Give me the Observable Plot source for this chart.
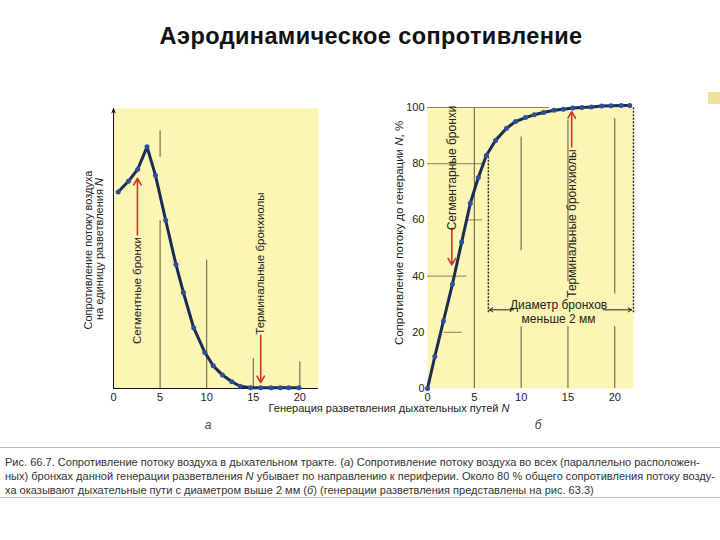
<!DOCTYPE html>
<html>
<head>
<meta charset="utf-8">
<script src="https://cdn.jsdelivr.net/npm/d3@7"></script>
<script src="https://cdn.jsdelivr.net/npm/@observablehq/plot@0.6"></script>
<style>
  html, body { margin: 0; padding: 0; background: #fff; }
  #page { position: relative; width: 720px; height: 540px; overflow: hidden; font-family: Arial, "Liberation Sans", sans-serif; color: #222; }
  .abs { position: absolute; white-space: nowrap; }
  .rot { transform: translate(-50%, -50%) rotate(-90deg); }
  .ctr { transform: translate(-50%, -50%); }
  .cap { position: absolute; left: 5px; white-space: nowrap; font-size: 10.5px; color: #333; transform-origin: 0 50%; line-height: 14px; }
  .plotbox { position: absolute; }
</style>
</head>
<body>
<div id="page"></div>
<script>
// ---------- data ----------
const xTicks = [0, 5, 10, 15, 20];
const xDomain = [0, 22];

// panel (a): resistance per generation (arbitrary units)
const leftGen = [0.5, 1.6, 2.6, 3.6, 4.5, 5.6, 6.7, 7.5, 8.6, 9.8, 10.7, 11.7, 12.7, 13.6, 14.7, 15.8, 16.9, 17.9, 18.8, 19.9];
const leftRes = [70.2, 74, 78.3, 86.3, 76.2, 60.1, 44.3, 34.3, 21.7, 12.9, 8.1, 4.8, 2.4, 0.8, 0.3, 0.3, 0.3, 0.3, 0.3, 0.3];

// panel (б): cumulative resistance, %
const rightGen = [0, 0.78, 1.7, 2.66, 3.65, 4.57, 5.43, 6.28, 7.27, 8.44, 9.4, 10.46, 11.4, 12.4, 13.5, 14.5, 15.5, 16.5, 17.5, 18.6, 19.6, 20.7, 21.6];
const rightRes = [0, 11.4, 24, 37.1, 52.1, 65.9, 75.1, 82.9, 88.3, 92.6, 95, 96.4, 97.4, 98.2, 99, 99.4, 99.8, 100, 100.2, 100.5, 100.6, 100.7, 100.7];
const rightYTicks = [0, 20, 40, 60, 80, 100];

// partial grid segments
const leftGridX = [5, 5, 10, 15, 20];
const leftGridLo = [0, 82.6, 0, 0, 0];
const leftGridHi = [60, 92, 45.8, 10.7, 9.5];

const rightGridX = [5, 10, 10, 15, 15, 20, 20];
const rightGridLo = [0, 0, 49, 0, 38, 0, 33.6];
const rightGridHi = [100, 22, 89.5, 22, 95.5, 22, 96];

const rightGridY = [100, 80, 60, 40, 20];
const rightGridFrom = [0, 0, 4.3, 0, 1.8];
const rightGridTo = [13, 6, 5.9, 4.2, 3.7];

// annotations
const leftLabels = ["Сегментные бронхи", "Терминальные бронхиолы"];
const leftLabelX = [2.57, 15.8];
const leftLabelY = [35, 44.6];
const leftArrowFrom = [54.8, 19];
const leftArrowTo = [75, 2.1];

const rightLabels = ["Сегментарные бронхи", "Терминальные бронхиолы"];
const rightLabelX = [2.6, 15.4];
const rightLabelY = [78.5, 58.7];
const rightArrowFrom = [57, 86];
const rightArrowTo = [44, 98.5];

const dashedX = [6.5, 22];
const dashedLo = [27, 27];
const dashedHi = [82.5, 100];

const diamArrowFrom = [9.2, 18.8];
const diamArrowTo = [6.6, 21.8];
const diamY = 28;
const diamText = ["Диаметр бронхов", "меньше 2 мм"];
const diamTextY = [29.6, 24.8];
const diamTextX = 14;

// ---------- build tables ----------
const zip = (keys, ...cols) => cols[0].map((_, i) => Object.fromEntries(keys.map((k, j) => [k, cols[j][i]])));
const leftData = zip(["x", "y"], leftGen, leftRes);
const rightData = zip(["x", "y"], rightGen, rightRes);
const lGrid = zip(["x", "y1", "y2"], leftGridX, leftGridLo, leftGridHi);
const rGridV = zip(["x", "y1", "y2"], rightGridX, rightGridLo, rightGridHi);
const rGridH = zip(["y", "x1", "x2"], rightGridY, rightGridFrom, rightGridTo);
const lLab = zip(["text", "x", "y"], leftLabels, leftLabelX, leftLabelY);
const lArr = zip(["x", "y1", "y2"], leftLabelX, leftArrowFrom, leftArrowTo);
const rLab = zip(["text", "x", "y"], rightLabels, rightLabelX, rightLabelY);
const rArr = zip(["x", "y1", "y2"], rightLabelX, rightArrowFrom, rightArrowTo);
const dashed = zip(["x", "y1", "y2"], dashedX, dashedLo, dashedHi);
const diamArr = zip(["x1", "x2"], diamArrowFrom, diamArrowTo).map(d => ({...d, y: diamY}));
const diamLab = zip(["text", "y"], diamText, diamTextY).map(d => ({...d, x: diamTextX}));

const YELLOW = "#fcf5b3";
const LINE = "#1b2c52";
const DOT = "#2b4f9e";
const RED = "#c8372b";
const style = { background: "transparent", fontFamily: "Arial, 'Liberation Sans', sans-serif", fontSize: "11px", color: "#222", overflow: "visible" };

const left = Plot.plot({
  width: 230, height: 320,
  marginLeft: 13, marginRight: 12, marginTop: 13, marginBottom: 27,
  style,
  x: { domain: xDomain, ticks: xTicks, tickSize: 0, tickPadding: 5, label: null },
  y: { domain: [0, 100], axis: null },
  marks: [
    Plot.frame({ fill: YELLOW, stroke: "none" }),
    Plot.ruleX(lGrid, { x: "x", y1: "y1", y2: "y2", stroke: "#3a3020", strokeWidth: 0.8 }),
    Plot.ruleY([0], { stroke: "#111", strokeWidth: 1.2 }),
    Plot.arrow([{ x: 0, y1: 0, y2: 100 }], { x1: "x", x2: "x", y1: "y1", y2: "y2", stroke: "#111", strokeWidth: 1, headLength: 7, headAngle: 40 }),
    Plot.line(leftData, { x: "x", y: "y", stroke: LINE, strokeWidth: 3, curve: "linear" }),
    Plot.dot(leftData, { x: "x", y: "y", r: 2.5, fill: DOT }),
    Plot.arrow(lArr, { x1: "x", x2: "x", y1: "y1", y2: "y2", stroke: RED, strokeWidth: 1.6, headLength: 7 }),
    Plot.text(lLab, { x: "x", y: "y", text: "text", rotate: -90, fontSize: 11.5, fill: "#222" })
  ]
});

const right = Plot.plot({
  width: 250, height: 320,
  marginLeft: 37, marginRight: 7, marginTop: 12, marginBottom: 27,
  style,
  x: { domain: xDomain, ticks: xTicks, tickSize: 0, tickPadding: 5, label: null },
  y: { domain: [0, 100], ticks: rightYTicks, tickSize: 0, tickPadding: 3, label: null },
  marks: [
    Plot.frame({ fill: YELLOW, stroke: "none" }),
    Plot.ruleX(rGridV, { x: "x", y1: "y1", y2: "y2", stroke: "#3a3020", strokeWidth: 0.8 }),
    Plot.ruleY(rGridH, { y: "y", x1: "x1", x2: "x2", stroke: "#6a6040", strokeWidth: 0.8 }),
    Plot.ruleX(dashed, { x: "x", y1: "y1", y2: "y2", stroke: "#222", strokeWidth: 1.4, strokeDasharray: "2,1.5" }),
    Plot.arrow(diamArr, { x1: "x1", x2: "x2", y1: "y", y2: "y", stroke: "#222", strokeWidth: 1, headLength: 6 }),
    Plot.text(diamLab, { x: "x", y: "y", text: "text", fontSize: 12, fill: "#222" }),
    Plot.line(rightData, { x: "x", y: "y", stroke: LINE, strokeWidth: 3 }),
    Plot.dot(rightData, { x: "x", y: "y", r: 2.5, fill: DOT }),
    Plot.arrow(rArr, { x1: "x", x2: "x", y1: "y1", y2: "y2", stroke: RED, strokeWidth: 1.6, headLength: 7 }),
    Plot.text(rLab, { x: "x", y: "y", text: "text", rotate: -90, fontSize: 12, fill: "#222" })
  ]
});

// ---------- page layout ----------
const page = document.getElementById("page");
function add(html, cls, css) {
  const d = document.createElement("div");
  d.className = cls;
  d.innerHTML = html;
  Object.assign(d.style, css);
  page.appendChild(d);
  return d;
}
add("Аэродинамическое сопротивление", "abs ctr", { left: "371px", top: "36px", fontSize: "23.5px", letterSpacing: "0.4px", fontWeight: "bold", color: "#111" });
add("", "abs", { left: "708px", top: "92px", width: "12px", height: "12px", background: "#ebe39a" });

const lb = document.createElement("div"); lb.className = "plotbox"; lb.style.left = "100px"; lb.style.top = "95px"; lb.appendChild(left); page.appendChild(lb);
const rb = document.createElement("div"); rb.className = "plotbox"; rb.style.left = "390px"; rb.style.top = "95px"; rb.appendChild(right); page.appendChild(rb);

add("Сопротивление потоку воздуха", "abs rot", { left: "88px", top: "250px", fontSize: "11px" });
add("на единицу разветвления <i>N</i>", "abs rot", { left: "99px", top: "249px", fontSize: "11px" });
add("Сопротивление потоку до генерации <i>N</i>, %", "abs rot", { left: "399px", top: "233px", fontSize: "11.5px" });
add("Генерация разветвления дыхательных путей <i>N</i>", "abs ctr", { left: "389px", top: "408px", fontSize: "11px" });
add("<i>а</i>", "abs ctr", { left: "208px", top: "425px", fontSize: "12px", color: "#444" });
add("<i>б</i>", "abs ctr", { left: "538px", top: "425px", fontSize: "12px", color: "#444" });

add("", "abs", { left: "0px", top: "447px", width: "720px", height: "1px", background: "#bbb" });
add("", "abs", { left: "0px", top: "497px", width: "720px", height: "1px", background: "#bbb" });

const capLines = [
  "Рис. 66.7. Сопротивление потоку воздуха в дыхательном тракте. (<i>а</i>) Сопротивление потоку воздуха во всех (параллельно расположен-",
  "ных) бронхах данной генерации разветвления <i>N</i> убывает по направлению к периферии. Около 80 % общего сопротивления потоку возду-",
  "ха оказывают дыхательные пути с диаметром выше 2 мм (<i>б</i>) (генерации разветвления представлены на рис. 63.3)"
];
const capTops = [455, 469, 483];
const capDivs = capLines.map((t, i) => add(t, "cap", { top: capTops[i] + "px" }));
const w0 = capDivs[0].getBoundingClientRect().width;
const w1 = capDivs[1].getBoundingClientRect().width;
const s = 710 / Math.max(w0, w1);
capDivs.forEach(d => { d.style.transform = `scaleX(${s})`; });
</script>
</body>
</html>
